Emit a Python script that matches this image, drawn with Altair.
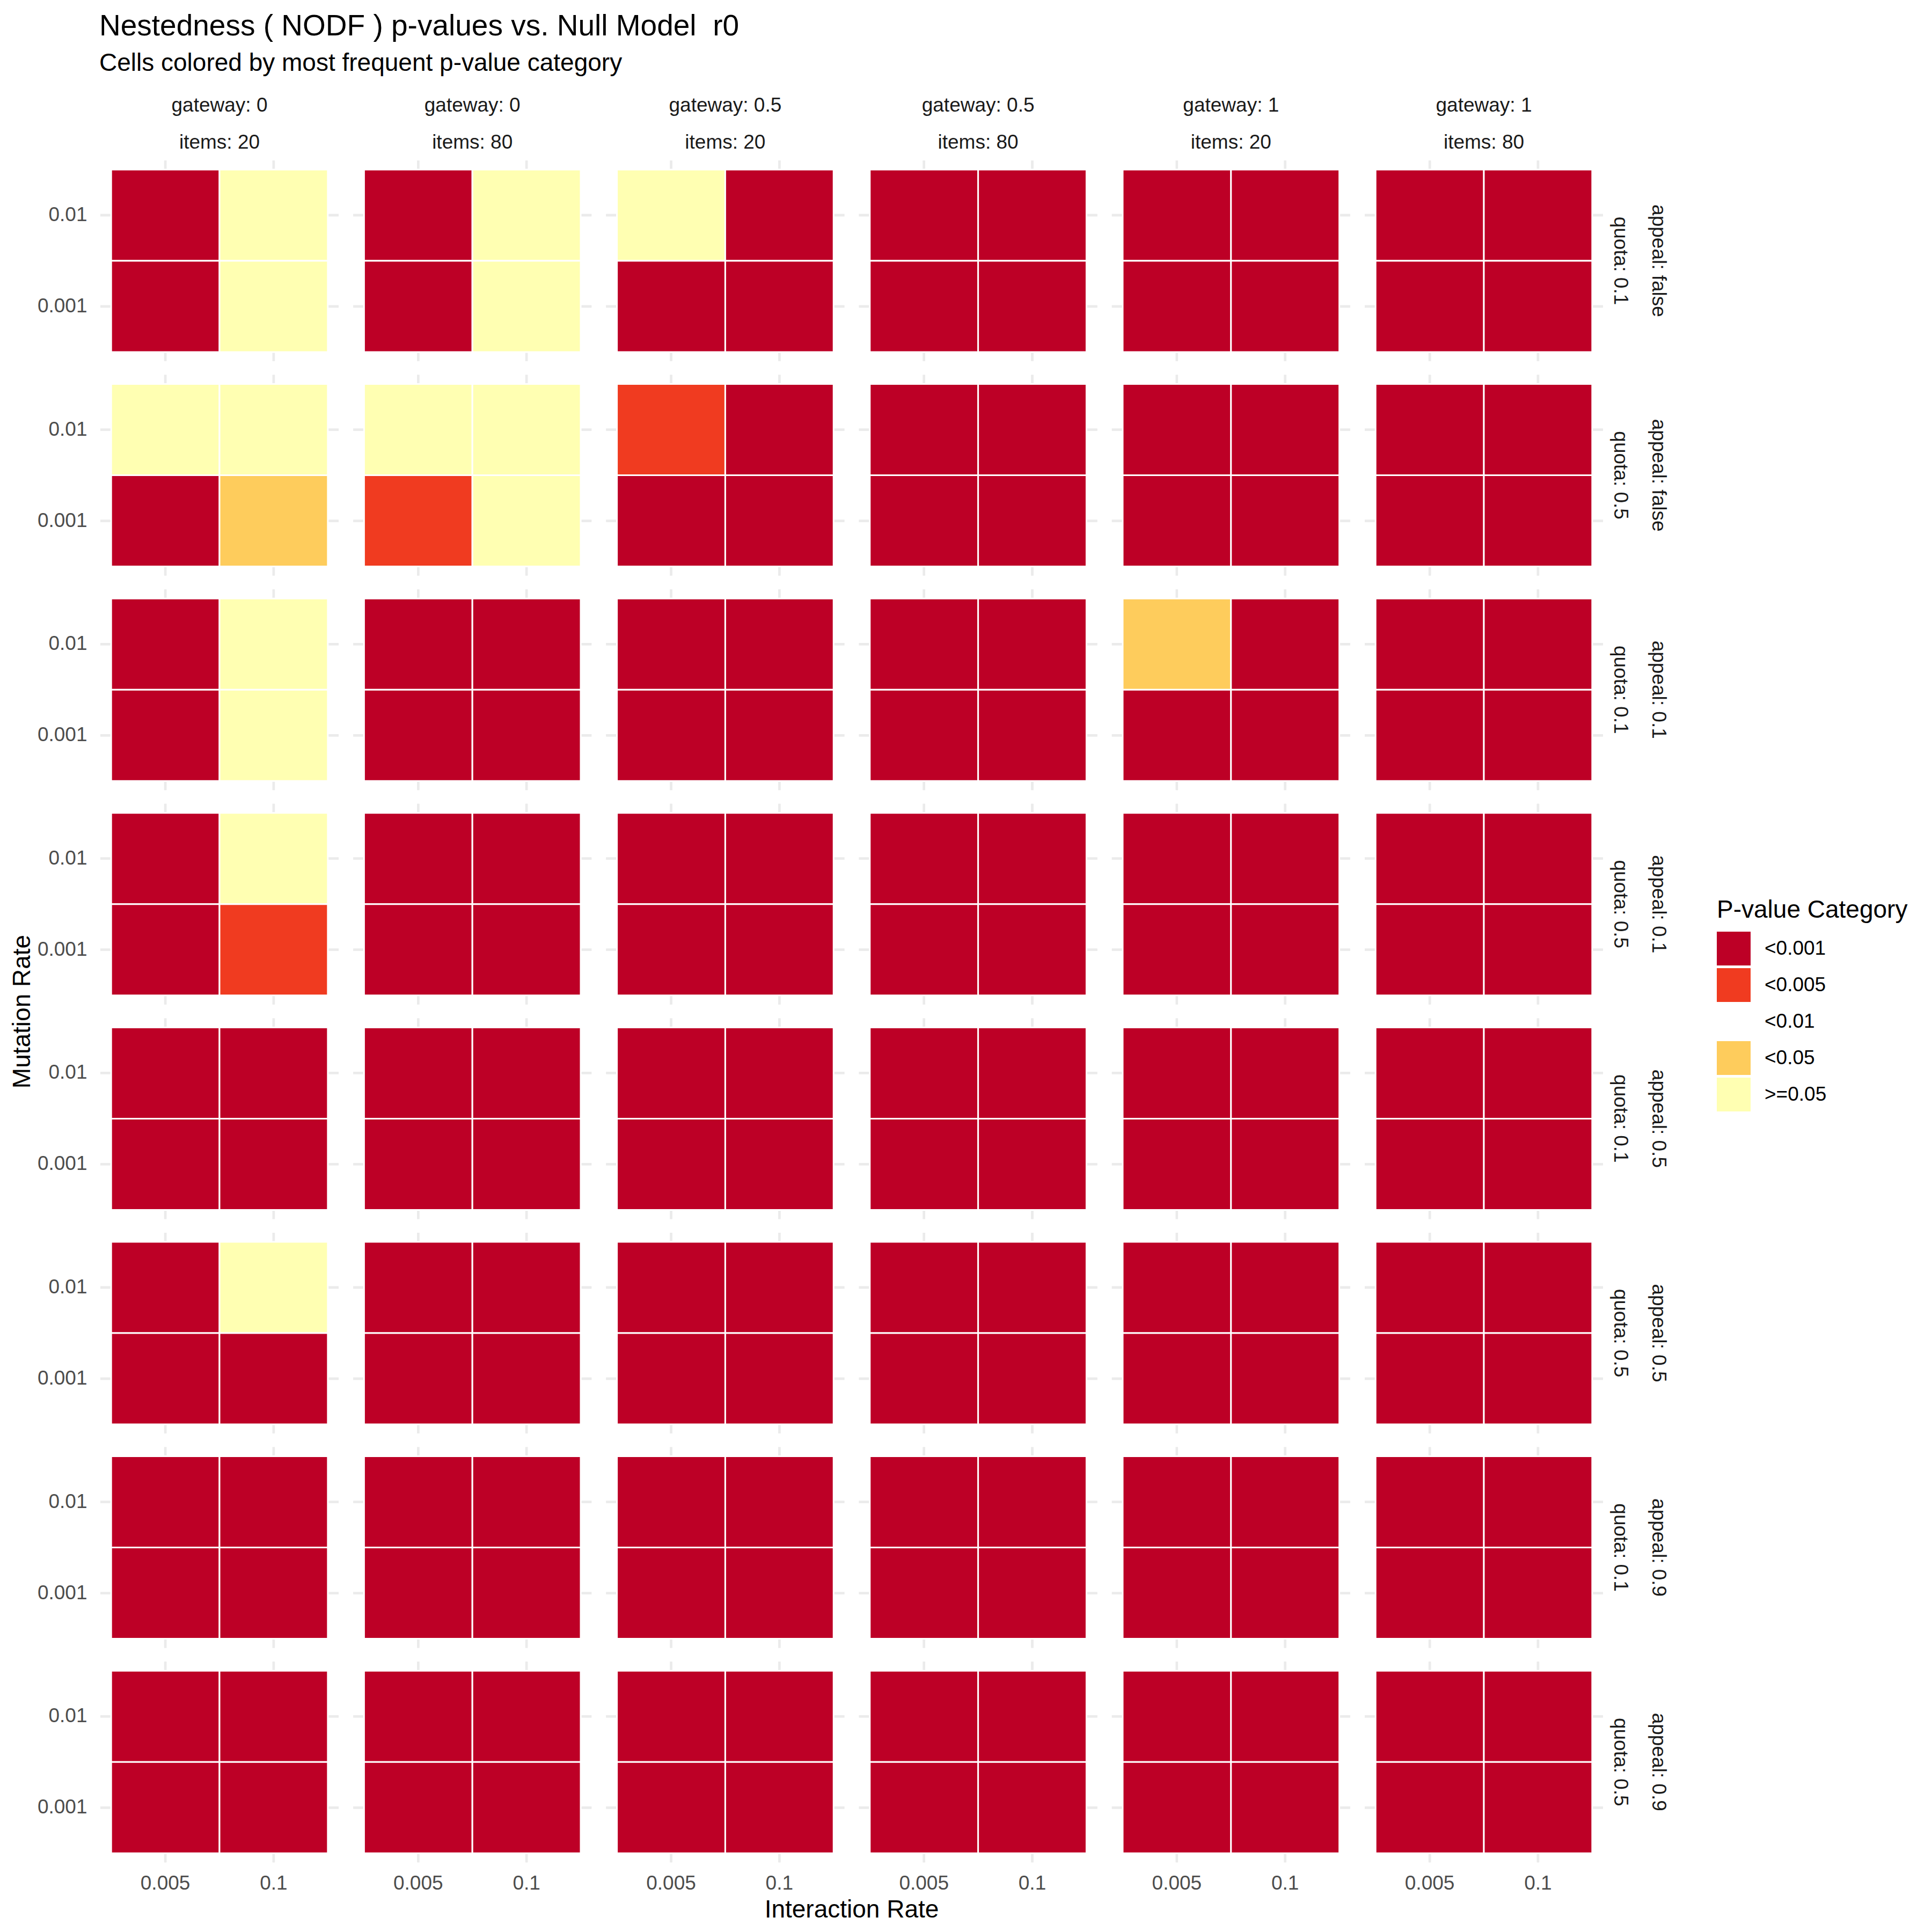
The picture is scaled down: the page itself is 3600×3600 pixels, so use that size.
import altair as alt
import pandas as pd

# ---- data ----
gateways = ["0", "0", "0.5", "0.5", "1", "1"]
items = ["20", "80", "20", "80", "20", "80"]
appeals = ["false", "false", "0.1", "0.1", "0.5", "0.5", "0.9", "0.9"]
quotas = ["0.1", "0.5", "0.1", "0.5", "0.1", "0.5", "0.1", "0.5"]
interaction_rates = ["0.005", "0.1"]
mutation_rates = ["0.01", "0.001"]

categories = ["<0.001", "<0.005", "<0.01", "<0.05", ">=0.05"]
colors = ["#BD0026", "#F03B20", "#FFFFFF", "#FECC5C", "#FFFFB2"]

R, O, M, Y = "<0.001", "<0.005", "<0.05", ">=0.05"
ALL_R = [R, R, R, R]
# per facet row, per facet column: [ (0.005,0.01), (0.1,0.01), (0.005,0.001), (0.1,0.001) ]
cell_categories = [
    [[R, Y, R, Y], [R, Y, R, Y], [Y, R, R, R], ALL_R, ALL_R, ALL_R],   # appeal false, quota 0.1
    [[Y, Y, R, M], [Y, Y, O, Y], [O, R, R, R], ALL_R, ALL_R, ALL_R],   # appeal false, quota 0.5
    [[R, Y, R, Y], ALL_R, ALL_R, ALL_R, [M, R, R, R], ALL_R],          # appeal 0.1, quota 0.1
    [[R, Y, R, O], ALL_R, ALL_R, ALL_R, ALL_R, ALL_R],                 # appeal 0.1, quota 0.5
    [ALL_R, ALL_R, ALL_R, ALL_R, ALL_R, ALL_R],                        # appeal 0.5, quota 0.1
    [[R, Y, R, R], ALL_R, ALL_R, ALL_R, ALL_R, ALL_R],                 # appeal 0.5, quota 0.5
    [ALL_R, ALL_R, ALL_R, ALL_R, ALL_R, ALL_R],                        # appeal 0.9, quota 0.1
    [ALL_R, ALL_R, ALL_R, ALL_R, ALL_R, ALL_R],                        # appeal 0.9, quota 0.5
]

records = []
row_labels = []
col_labels = [f"gateway: {g}|items: {i}" for g, i in zip(gateways, items)]
for ri, (ap, qu) in enumerate(zip(appeals, quotas)):
    rl = f"appeal: {ap}|quota: {qu}"
    row_labels.append(rl)
    for ci, cl in enumerate(col_labels):
        cats = cell_categories[ri][ci]
        k = 0
        for mu in mutation_rates:
            for ir in interaction_rates:
                records.append({"row": rl, "col": cl, "interaction": ir,
                                "mutation": mu, "category": cats[k]})
                k += 1
df = pd.DataFrame(records)

FONT = "Liberation Sans"
GRID = "#EBEBEB"

xscale = alt.Scale(paddingInner=0, paddingOuter=0.1)
yscale = alt.Scale(paddingInner=0, paddingOuter=0.1)

x_enc = alt.X("interaction:N", sort=interaction_rates, title=None, scale=xscale,
              axis=alt.Axis(labelAngle=0, labelPadding=18))
y_enc = alt.Y("mutation:N", sort=mutation_rates, title=None, scale=yscale,
              axis=alt.Axis(labelPadding=22))

grid_x = alt.Chart().mark_rule(color=GRID, strokeWidth=4.4).encode(x=x_enc)
grid_y = alt.Chart().mark_rule(color=GRID, strokeWidth=4.4).encode(y=y_enc)

tiles = alt.Chart().mark_rect(stroke="white", strokeWidth=3).encode(
    x=x_enc,
    y=y_enc,
    color=alt.Color("category:N",
                    scale=alt.Scale(domain=categories, range=colors),
                    legend=alt.Legend(title="P-value Category", orient="none",
                                      legendX=3012, legendY=1375,
                                      symbolType="square", symbolSize=3969,
                                      symbolStrokeWidth=0, labelFontSize=37,
                                      titleFontSize=46, titleFontWeight="normal",
                                      titleColor="black", labelColor="black",
                                      titleLimit=2000, labelLimit=1000,
                                      labelOffset=26, rowPadding=5, titlePadding=16,
                                      labelFont=FONT, titleFont=FONT)),
)

cell = alt.layer(grid_x, grid_y, tiles, data=df).properties(width=444, height=374)

chart = cell.facet(
    row=alt.Row("row:N", sort=row_labels,
                header=alt.Header(title="Mutation Rate", titleOrient="left",
                                  titleFontSize=46, titleColor="black",
                                  titleFont=FONT, titleFontWeight="normal",
                                  titlePadding=-7,
                                  labelOrient="right", labelAngle=90,
                                  labelExpr="split(datum.value, '|')",
                                  labelFontSize=37, labelColor="#1A1A1A",
                                  labelFont=FONT, labelLineHeight=71,
                                  labelPadding=10)),
    column=alt.Column("col:N", sort=col_labels,
                      header=alt.Header(title="Interaction Rate", titleOrient="bottom",
                                        titleFontSize=46, titleColor="black",
                                        titleFont=FONT, titleFontWeight="normal",
                                        titlePadding=0,
                                        labelOrient="top",
                                        labelExpr="split(datum.value, '|')",
                                        labelFontSize=37, labelColor="#1A1A1A",
                                        labelFont=FONT, labelLineHeight=69,
                                        labelPadding=11)),
    spacing={"row": 19.6, "column": 21.2},
).properties(
    title=alt.TitleParams(text="Nestedness ( NODF ) p-values vs. Null Model\u00a0 r0",
                          subtitle="Cells colored by most frequent p-value category",
                          anchor="start", fontSize=55, subtitleFontSize=46,
                          font=FONT, subtitleFont=FONT, fontWeight="normal",
                          color="black", subtitleColor="black",
                          subtitlePadding=18, offset=36, dx=166),
    padding={"left": 10, "top": 14, "right": 10, "bottom": 10},
).configure_view(strokeWidth=0).configure_axis(
    domain=False, ticks=False, grid=False,
    labelFontSize=37, labelColor="#4D4D4D", labelFont=FONT,
)

chart.save("out.html", embed_options={"renderer": "svg", "actions": False})
